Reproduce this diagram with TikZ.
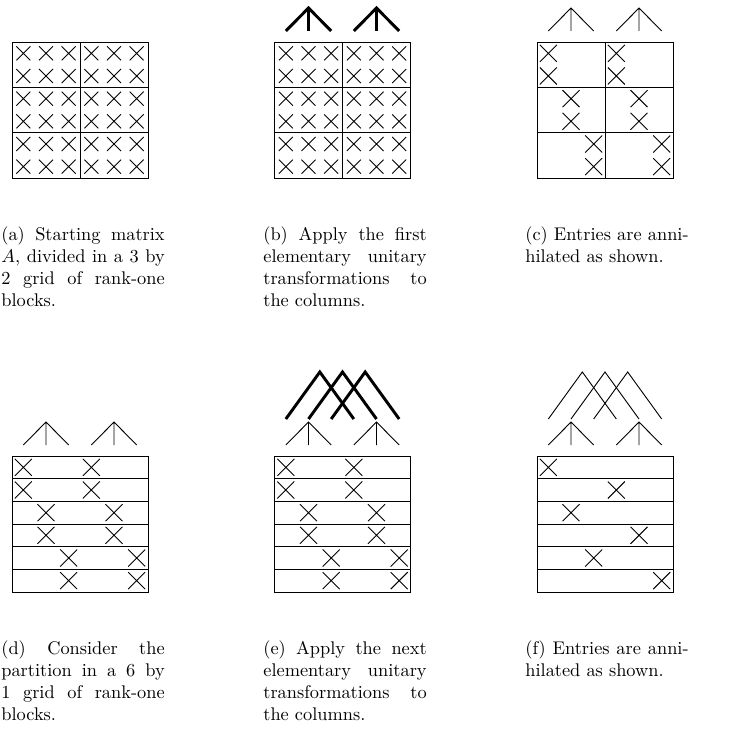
\documentclass[tikz,border=0pt]{standalone}
\usepackage{tikz}
\usetikzlibrary{calc}
\hyphenpenalty=10000
\exhyphenpenalty=10000
\tikzset{
  grid/.style    = {draw, line width=0.5pt},
  cut/.style     = {line width=0.5pt},
  hat/.style     = {line width=0.5pt},
  boldhat/.style = {line width=1.6pt},
  subcap/.style  = {anchor=north west, inner sep=0pt, text width=89pt,
                    align=justify, font=\normalsize},
}
% cross in cell (col, row) of a panel, half size #3
\newcommand{\xcell}[3]{%
  \draw[cut] ({(#1+0.5)*\cs-#3},{(#2+0.5)*\cs-#3}) -- ++(2*#3,2*#3)
             ({(#1+0.5)*\cs-#3},{(#2+0.5)*\cs+#3}) -- ++(2*#3,-2*#3);}
% two small hats above a panel
\newcommand{\smallhats}[1]{%
  \foreach \hx in {34,102}
    {\draw[#1] (\hx-\cs,-11) -- (\hx,-34) -- (\hx+\cs,-11) (\hx,-34) -- (\hx,-11);}}
% three big hats joining the small ones
\newcommand{\bighats}[1]{%
  \foreach \hx in {11.33,34,56.67}
    {\draw[#1] (\hx,-37) -- (\hx+34,-84) -- (\hx+68,-37);}}
\def\cs{22.667}

\begin{document}
\begin{tikzpicture}[x=0.545pt, y=-0.545pt]
\useasboundingbox (0,0) rectangle (732,734);

% (a) full matrix, 3 by 2 blocks
\begin{scope}[shift={(12,42)}]
  \draw[grid] (0,0) rectangle (136,136) (68,0) -- (68,136)
              (0,2*\cs) -- (136,2*\cs) (0,4*\cs) -- (136,4*\cs);
  \foreach \i in {0,...,5}
    \foreach \j in {0,...,5}
      {\xcell{\i}{\j}{7}}
\end{scope}

% (b) first transformations
\begin{scope}[shift={(274.5,42)}]
  \draw[grid] (0,0) rectangle (136,136) (68,0) -- (68,136)
              (0,2*\cs) -- (136,2*\cs) (0,4*\cs) -- (136,4*\cs);
  \foreach \i in {0,...,5}
    \foreach \j in {0,...,5}
      {\xcell{\i}{\j}{7}}
  \smallhats{boldhat}
\end{scope}

% (c) annihilated entries
\begin{scope}[shift={(537,42)}]
  \draw[grid] (0,0) rectangle (136,136) (68,0) -- (68,136)
              (0,2*\cs) -- (136,2*\cs) (0,4*\cs) -- (136,4*\cs);
  \foreach \j in {0,...,5} {
    \pgfmathtruncatemacro{\k}{\j/2}
    \xcell{\k}{\j}{8.5}
    \xcell{\k+3}{\j}{8.5}
  }
  \smallhats{hat}
\end{scope}

% (d) 6 by 1 partition
\begin{scope}[shift={(12,456)}]
  \draw[grid] (0,0) rectangle (136,136);
  \foreach \r in {1,...,5}
    \draw[grid] (0,\r*\cs) -- (136,\r*\cs);
  \foreach \j in {0,...,5} {
    \pgfmathtruncatemacro{\k}{\j/2}
    \xcell{\k}{\j}{8.5}
    \xcell{\k+3}{\j}{8.5}
  }
  \smallhats{hat}
\end{scope}

% (e) next transformations
\begin{scope}[shift={(274.5,456)}]
  \draw[grid] (0,0) rectangle (136,136);
  \foreach \r in {1,...,5}
    \draw[grid] (0,\r*\cs) -- (136,\r*\cs);
  \foreach \j in {0,...,5} {
    \pgfmathtruncatemacro{\k}{\j/2}
    \xcell{\k}{\j}{8.5}
    \xcell{\k+3}{\j}{8.5}
  }
  \smallhats{hat}
  \bighats{boldhat}
\end{scope}

% (f) one entry per row left
\begin{scope}[shift={(537,456)}]
  \draw[grid] (0,0) rectangle (136,136);
  \foreach \r in {1,...,5}
    \draw[grid] (0,\r*\cs) -- (136,\r*\cs);
  \foreach \j/\k in {0/0,1/3,2/1,3/4,4/2,5/5}
    {\xcell{\k}{\j}{8.5}}
  \smallhats{hat}
  \bighats{hat}
\end{scope}

% captions
\node[subcap] (capa) at (1,226)
  {(a) Starting matrix\linebreak $A$, divided in a 3 by\linebreak
   2 grid of rank-one\linebreak blocks.};
\node[subcap] (capb) at (263,226)
  {(b) Apply the first\linebreak elementary unitary\linebreak
   transformations to\linebreak the columns.};
\node[subcap] (capc) at (525,226)
  {(c) Entries are anni-\linebreak hilated as shown.};
\node[subcap] (capd) at (1,640)
  {(d) Consider the\linebreak partition in a 6 by\linebreak
   1 grid of rank-one\linebreak blocks.};
\node[subcap] (cape) at (263,640)
  {(e) Apply the next\linebreak elementary unitary\linebreak
   transformations to\linebreak the columns.};
\node[subcap] (capf) at (525,640)
  {(f) Entries are anni-\linebreak hilated as shown.};
\end{tikzpicture}
\end{document}
